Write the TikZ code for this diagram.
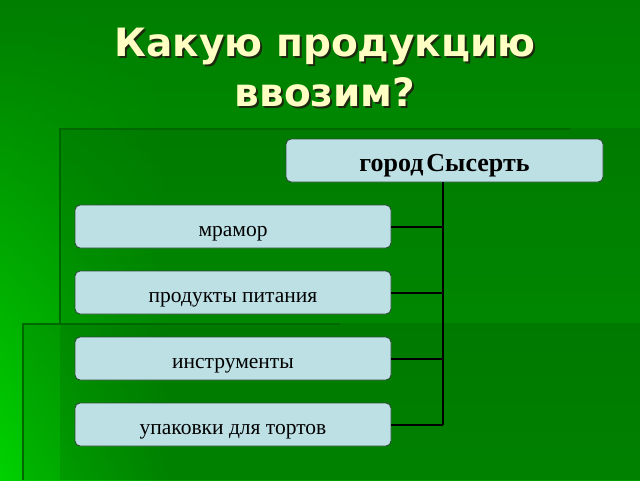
\documentclass[tikz,border=0pt]{standalone}
\usepackage{fontspec}
\setmainfont{Liberation Serif}
\newfontfamily\titlefont{DejaVu Sans}
\usetikzlibrary{calc,fadings}
\definecolor{bgdark}{HTML}{007E00}
\definecolor{bgmid}{HTML}{00A000}
\definecolor{bglight}{HTML}{00D200}
\definecolor{framedark}{HTML}{006800}
\definecolor{boxfill}{HTML}{BDE0E5}
\definecolor{boxline}{HTML}{2E4A38}
\definecolor{titlecol}{HTML}{FFFFC4}
\definecolor{shadowcol}{HTML}{1E2A10}
\tikzset{
  itembox/.style={draw=boxline, line width=0.9pt, fill=boxfill, rounded corners=5pt,
    minimum width=316pt, minimum height=43pt, inner sep=0pt,
    text height=19pt, text depth=0pt,
    font=\fontsize{21.5}{24}\selectfont},
  headbox/.style={itembox, minimum width=317pt, text height=22pt,
    font=\fontsize{26}{28}\selectfont\bfseries},
  link/.style={draw=black, line width=2pt},
  frameline/.style={draw=framedark, line width=2pt},
  titletext/.style={font=\titlefont\fontsize{39}{50}\selectfont\bfseries, inner sep=0pt, anchor=base}
}
\begin{document}
\begin{tikzpicture}[x=1pt,y=-1pt]
\useasboundingbox (0,0) rectangle (640,480);
% background
\shade[top color=bgdark, bottom color=bgmid] (0,0) rectangle (640,480);
\shade[top color=bgdark, bottom color=bglight, path fading=east] (0,0) rectangle (170,480);
\fill[black, opacity=0.09] (60,128) rectangle (640,480);
\fill[black, opacity=0.10] (22,323) rectangle (640,480);
\draw[frameline] (60,129) -- (570,129);
\draw[frameline] (60,128) -- (60,323);
\draw[frameline] (22,324) -- (340,324);
\draw[frameline] (23,323) -- (23,480);
% title
\node[titletext, text=shadowcol] at (327,58) {Какую продукцию};
\node[titletext, text=shadowcol] at (327,108) {ввозим?};
\node[titletext, text=titlecol] (title1) at (325,56) {Какую продукцию};
\node[titletext, text=titlecol] (title2) at (325,106) {ввозим?};
% boxes
\node[headbox] (head) at (444.5,160.5) {город\kern3pt Сысерть};
\node[itembox] (b1) at (233,226.5) {мрамор};
\node[itembox] (b2) at (233,292.5) {продукты питания};
\node[itembox] (b3) at (233,358.5) {инструменты};
\node[itembox] (b4) at (233,424.5) {упаковки для тортов};
\coordinate (bus) at (443,0);
\draw[link] (head.south -| bus) -- (b4.east -| bus);
\foreach \b in {b1,b2,b3,b4} \draw[link] (\b.east) -- (\b.east -| bus);
\end{tikzpicture}
\end{document}
